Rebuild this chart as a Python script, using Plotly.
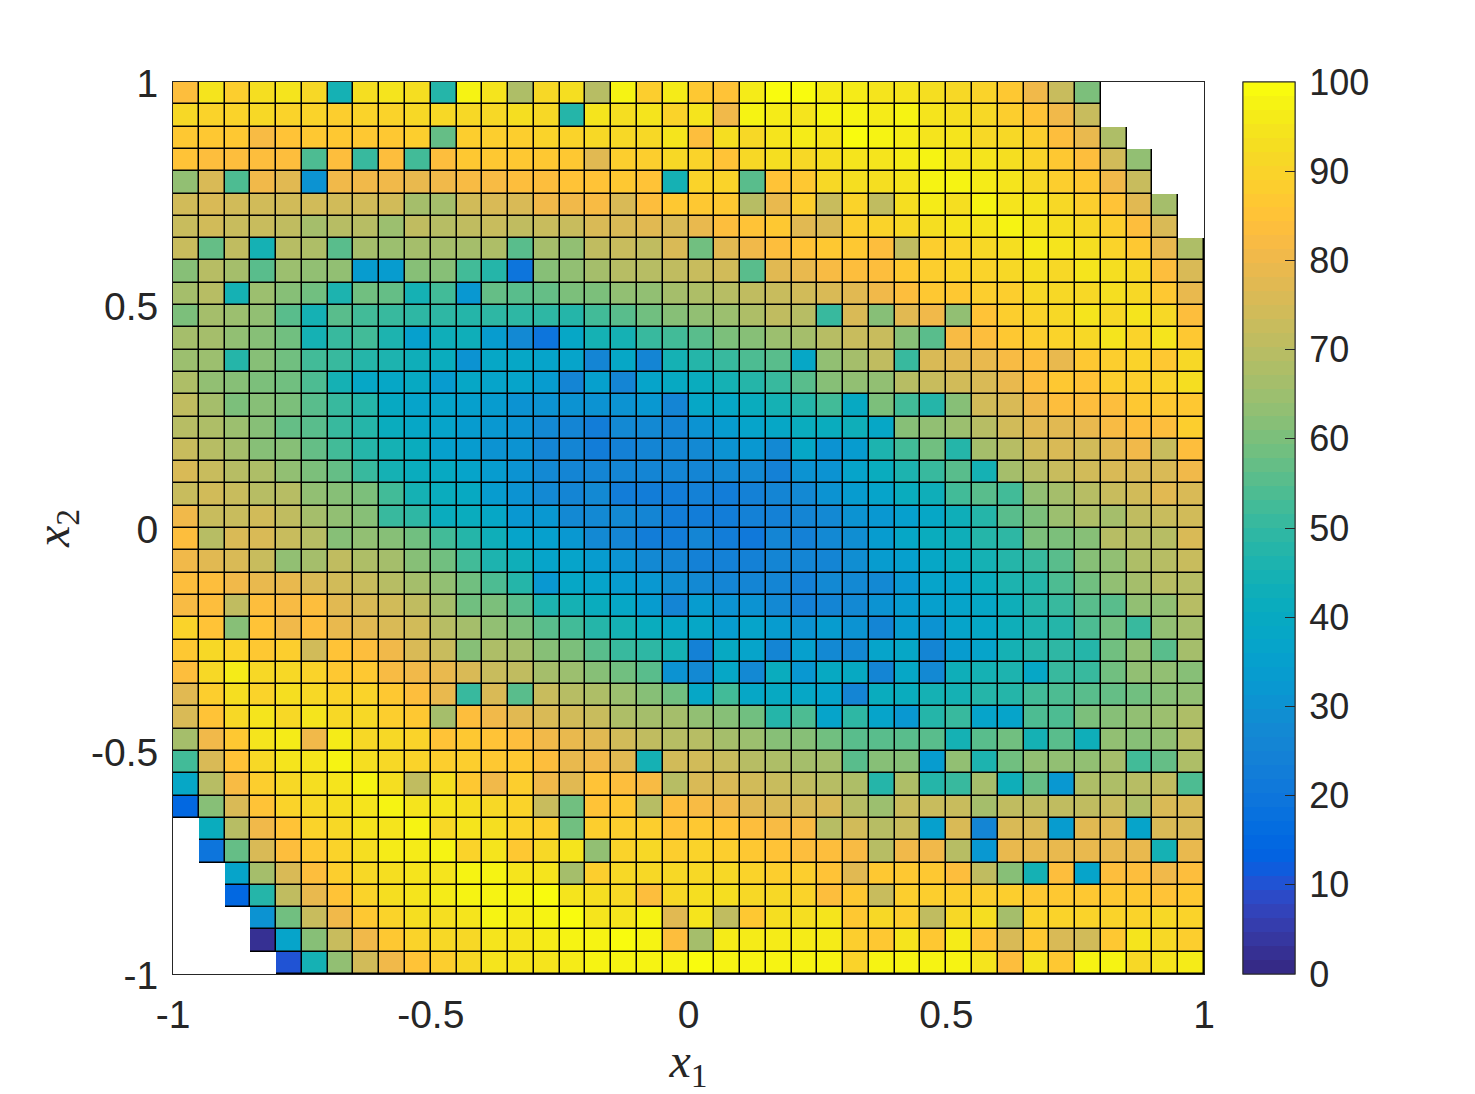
import plotly.graph_objects as go

N = None
# Rows run from x2 = 1 (top) to x2 = -1 (bottom); columns from x1 = -1 to x1 = 1.
row_00 = [84,94,89,93,94,91,44,93,94,93,48,97,94,68,92,93,70,98,88,96, 86,85,96,99,99,96,96,95,95,93,92,90,86,80,72,60,N,N,N,N]
row_01 = [91,90,90,91,90,90,89,90,90,92,92,91,92,93,91,48,94,93,94,90, 95,81,97,96,95,98,97,96,97,95,93,91,88,85,80,72,N,N,N,N]
row_02 = [86,87,87,82,85,86,86,86,87,89,57,88,88,89,90,90,91,92,92,95, 83,93,92,94,96,94,99,97,96,94,94,92,91,88,84,79,68,N,N,N]
row_03 = [85,84,83,83,84,54,84,51,84,53,84,86,86,86,86,86,78,88,89,91, 90,85,92,93,92,93,94,95,96,97,95,95,93,90,87,83,74,63,N,N]
row_04 = [64,75,54,80,78,30,80,80,80,79,81,82,82,83,84,85,85,86,85,45, 90,90,56,85,87,92,93,93,95,98,98,96,95,92,89,87,81,72,N,N]
row_05 = [74,75,74,74,74,74,74,74,74,67,67,74,76,76,80,80,82,75,83,86, 87,86,70,79,88,73,90,71,93,96,93,97,95,94,91,89,85,77,66,N]
row_06 = [72,74,72,72,71,67,70,70,65,71,70,71,72,71,72,73,75,75,77,75, 79,83,85,86,78,75,89,90,92,93,95,94,97,94,93,92,89,84,75,N]
row_07 = [72,57,71,44,69,68,56,67,65,67,66,66,68,56,67,64,71,72,71,75, 58,77,81,83,85,86,87,84,71,89,90,92,93,96,95,93,90,87,79,68]
row_08 = [61,69,66,56,65,64,63,34,34,61,62,52,47,20,61,64,66,69,70,71, 73,74,56,77,79,82,84,84,86,89,90,90,91,93,92,95,93,91,84,75]
row_09 = [66,69,44,65,62,59,46,58,57,44,52,32,57,55,57,60,60,63,64,66, 68,69,71,72,74,76,78,81,84,86,87,88,89,91,91,91,93,92,87,79]
row_10 = [60,67,65,64,55,45,55,52,51,49,49,48,49,49,49,48,52,55,58,61, 63,65,68,71,70,50,76,62,78,81,64,85,89,90,91,94,92,95,91,84]
row_11 = [67,66,64,62,58,45,50,52,46,35,43,43,33,28,20,38,45,44,50,52, 55,60,62,65,67,70,72,73,61,56,82,84,87,88,90,92,94,90,94,87]
row_12 = [65,65,47,61,59,52,51,48,46,43,41,30,38,38,37,37,25,39,26,44, 47,50,54,56,39,63,67,71,51,75,77,79,82,84,79,87,89,90,87,92]
row_13 = [68,63,62,60,59,54,45,39,38,40,33,39,36,36,33,25,35,25,37,40, 42,44,47,51,56,61,63,63,69,73,74,76,79,84,86,85,88,89,90,93]
row_14 = [71,67,60,61,60,56,50,48,40,37,36,35,34,31,30,30,31,31,32,25, 38,38,41,44,47,52,40,60,52,47,62,74,76,80,83,84,83,87,87,86]
row_15 = [70,68,65,61,57,55,50,47,42,38,36,33,32,30,27,26,22,27,27,26, 31,34,36,38,41,41,43,38,61,63,65,70,74,77,78,79,82,83,83,88]
row_16 = [72,69,66,62,62,57,52,48,44,41,35,33,31,30,26,25,22,24,25,26, 27,30,32,27,38,31,34,46,52,59,47,67,70,74,76,74,77,80,73,83]
row_17 = [76,73,70,68,64,60,57,51,44,42,40,36,33,30,28,26,25,25,25,25, 25,27,27,24,30,31,36,42,46,51,55,45,67,70,72,74,76,76,76,81]
row_18 = [73,74,73,69,69,63,61,60,52,44,42,40,33,31,28,26,27,23,22,22, 24,23,24,26,28,31,33,37,41,43,52,55,53,64,66,70,73,74,77,75]
row_19 = [80,73,72,74,71,67,64,62,51,49,42,42,38,32,32,28,28,27,25,23, 22,22,24,24,26,27,30,32,35,38,43,47,55,60,65,68,67,71,72,74]
row_20 = [84,70,76,75,73,70,62,64,62,58,52,47,43,36,35,32,27,26,23,23, 25,22,21,25,24,28,29,34,38,42,43,47,49,60,60,62,70,69,70,75]
row_21 = [80,77,76,72,63,66,71,68,66,62,59,53,46,43,36,36,33,30,27,25, 24,24,24,26,25,26,29,33,35,39,41,44,47,50,56,62,64,68,70,72]
row_22 = [84,84,81,79,79,76,74,73,69,66,63,59,54,48,32,39,37,34,32,29, 28,26,25,25,24,27,27,28,32,36,36,42,46,48,54,59,63,66,69,70]
row_23 = [82,83,71,84,82,83,78,75,74,71,66,58,60,55,46,45,42,38,33,25, 33,30,30,27,24,25,28,30,33,35,36,39,43,48,50,55,56,63,64,69]
row_24 = [90,85,62,85,80,83,79,78,75,74,69,66,64,60,56,53,48,44,41,38, 38,33,36,33,31,33,31,25,33,31,36,38,43,46,48,54,58,50,64,66]
row_25 = [86,92,90,86,88,74,85,83,80,76,73,61,68,66,61,60,56,51,49,45, 24,40,37,25,35,27,27,36,39,25,33,36,44,47,49,47,58,63,56,66]
row_26 = [83,92,96,91,91,90,86,87,82,80,79,75,72,71,67,65,62,59,55,30, 27,38,27,42,32,40,40,25,39,28,43,44,46,38,50,50,58,63,64,62]
row_27 = [78,88,93,90,93,92,90,90,86,83,79,50,76,56,72,70,68,65,62,59, 39,52,38,40,39,37,25,42,41,44,45,47,48,53,54,55,57,58,62,64]
row_28 = [75,85,92,95,92,94,92,92,89,86,66,83,81,78,75,74,72,68,67,66, 64,62,59,48,54,37,49,37,32,47,50,37,36,54,54,60,62,63,65,68]
row_29 = [67,81,87,94,96,81,96,92,91,90,85,87,85,83,81,79,77,74,71,69, 69,66,65,62,61,59,56,55,55,55,44,55,58,44,56,43,63,61,64,69]
row_30 = [53,76,85,91,94,95,98,93,92,90,89,89,86,86,84,79,80,78,45,74, 74,72,70,68,66,66,56,62,62,33,63,46,59,63,64,64,66,53,57,68]
row_31 = [39,70,82,88,91,93,95,98,93,71,93,86,80,89,80,78,85,83,82,70, 76,75,74,72,71,70,68,47,68,47,50,67,43,57,32,68,68,70,71,54]
row_32 = [15,62,76,85,90,92,93,95,98,94,95,93,92,90,73,59,85,86,70,83, 82,80,78,76,75,75,70,65,73,73,72,67,71,71,71,71,72,68,75,75]
row_33 = [N,41,70,80,85,90,92,94,95,98,92,94,93,90,88,59,88,88,88,85, 87,85,83,82,82,70,74,69,73,35,76,26,76,75,33,78,77,37,76,76]
row_34 = [N,20,57,75,83,86,90,93,96,96,98,90,95,87,92,94,63,90,91,88, 90,88,87,85,84,84,82,70,80,81,70,32,79,79,79,79,79,79,44,79]
row_35 = [N,N,36,66,76,84,89,91,93,95,95,97,97,94,94,66,88,91,92,92, 91,91,90,89,88,85,78,86,87,87,84,71,62,45,84,36,84,84,80,84]
row_36 = [N,N,15,48,71,79,85,90,93,95,96,97,97,97,99,95,93,92,83,92, 93,93,91,91,90,84,87,72,89,89,88,88,88,87,87,87,87,87,85,87]
row_37 = [N,N,N,30,58,72,81,86,90,93,93,95,97,96,97,99,94,95,97,78, 94,71,87,93,93,94,87,92,88,71,91,93,67,90,90,90,90,90,91,90]
row_38 = [N,N,N,3,36,62,72,81,87,90,91,92,95,94,96,97,98,99,98,84, 67,96,96,96,96,96,89,86,95,87,96,85,76,87,76,74,87,94,92,89]
row_39 = [N,N,N,N,10,44,63,74,80,85,88,92,94,95,95,96,97,97,98,98, 99,97,97,97,97,97,90,97,97,97,98,94,83,94,86,97,97,92,95,96]

z_rows = [row_00,row_01,row_02,row_03,row_04,row_05,row_06,row_07,row_08,row_09,
          row_10,row_11,row_12,row_13,row_14,row_15,row_16,row_17,row_18,row_19,
          row_20,row_21,row_22,row_23,row_24,row_25,row_26,row_27,row_28,row_29,
          row_30,row_31,row_32,row_33,row_34,row_35,row_36,row_37,row_38,row_39]

x_centers = [-1 + (i + 0.5) / 20 for i in range(40)]
y_centers = [1 - (i + 0.5) / 20 for i in range(40)]

axis_ticks = [-1, -0.5, 0, 0.5, 1]
axis_labels = ["-1", "-0.5", "0", "0.5", "1"]
cbar_ticks = [0, 10, 20, 30, 40, 50, 60, 70, 80, 90, 100]

parula = [
(0.2081,0.1663,0.5292),(0.2116,0.1898,0.5777),(0.2123,0.2138,0.6270),(0.2081,0.2386,0.6771),
(0.1959,0.2645,0.7279),(0.1707,0.2919,0.7792),(0.1253,0.3242,0.8303),(0.0591,0.3598,0.8683),
(0.0117,0.3875,0.8820),(0.0060,0.4086,0.8828),(0.0165,0.4266,0.8786),(0.0329,0.4430,0.8720),
(0.0498,0.4586,0.8641),(0.0629,0.4737,0.8554),(0.0723,0.4887,0.8467),(0.0779,0.5040,0.8384),
(0.0793,0.5200,0.8312),(0.0749,0.5375,0.8263),(0.0641,0.5570,0.8240),(0.0488,0.5772,0.8228),
(0.0343,0.5966,0.8199),(0.0265,0.6137,0.8135),(0.0239,0.6287,0.8038),(0.0231,0.6418,0.7913),
(0.0228,0.6535,0.7768),(0.0267,0.6642,0.7607),(0.0384,0.6743,0.7436),(0.0590,0.6838,0.7254),
(0.0843,0.6928,0.7062),(0.1133,0.7015,0.6859),(0.1453,0.7098,0.6646),(0.1801,0.7177,0.6424),
(0.2178,0.7250,0.6193),(0.2586,0.7317,0.5954),(0.3022,0.7376,0.5712),(0.3482,0.7424,0.5473),
(0.3953,0.7459,0.5244),(0.4420,0.7481,0.5033),(0.4871,0.7491,0.4840),(0.5300,0.7491,0.4661),
(0.5709,0.7485,0.4494),(0.6099,0.7473,0.4337),(0.6473,0.7456,0.4188),(0.6834,0.7435,0.4044),
(0.7184,0.7411,0.3905),(0.7525,0.7384,0.3768),(0.7858,0.7356,0.3633),(0.8185,0.7327,0.3498),
(0.8507,0.7299,0.3360),(0.8824,0.7274,0.3217),(0.9139,0.7258,0.3063),(0.9450,0.7261,0.2886),
(0.9739,0.7314,0.2666),(0.9938,0.7455,0.2403),(0.9990,0.7653,0.2164),(0.9955,0.7861,0.1967),
(0.9880,0.8066,0.1794),(0.9789,0.8271,0.1633),(0.9697,0.8481,0.1475),(0.9626,0.8705,0.1309),
(0.9589,0.8949,0.1132),(0.9598,0.9218,0.0948),(0.9661,0.9514,0.0755),(0.9763,0.9831,0.0538),
]
colorscale = []
for i, (r, g, b) in enumerate(parula):
    c = f"rgb({round(r*255)},{round(g*255)},{round(b*255)})"
    colorscale.append([i / 64, c])
    colorscale.append([(i + 1) / 64, c])

INK = "#262626"
SANS = "Liberation Sans, Arial, sans-serif"
SERIF = "Liberation Serif, DejaVu Serif, serif"

cbar_common = dict(
    x=(1243 - 173) / 1031, xanchor="left", xpad=0, ypad=0,
    y=0.5, yanchor="middle", len=1, lenmode="fraction",
    thickness=52, thicknessmode="pixels",
    outlinewidth=1, outlinecolor=INK,
    tickmode="array", tickvals=cbar_ticks, tickwidth=1,
)

# black backing under defined cells: shows through the gaps as cell edges
mask = [[None if v is None else 1 for v in row] for row in z_rows]

fig = go.Figure()
# Hidden under the backing: carries the colour bar's tick labels, pushed out by clear ticks.
fig.add_trace(go.Heatmap(x=x_centers, y=y_centers, z=z_rows, zmin=0, zmax=100,
                         colorscale=colorscale, hoverinfo="skip",
                         colorbar=dict(**cbar_common, ticks="outside", ticklen=7,
                                       tickcolor="rgba(0,0,0,0)",
                                       tickfont=dict(family=SANS, size=36, color=INK))))
fig.add_trace(go.Heatmap(x=x_centers, y=y_centers, z=mask, zmin=0, zmax=1,
                         colorscale=[[0, "#000000"], [1, "#000000"]],
                         showscale=False, hoverinfo="skip"))
# Visible cells: carries the colour bar's inward tick marks.
fig.add_trace(go.Heatmap(x=x_centers, y=y_centers, z=z_rows, zmin=0, zmax=100,
                         colorscale=colorscale, xgap=1.5, ygap=1.5,
                         colorbar=dict(**cbar_common, ticks="inside", ticklen=10,
                                       tickcolor=INK, showticklabels=False)))

axis_common = dict(
    range=[-1, 1], tickmode="array", tickvals=axis_ticks, ticktext=axis_labels,
    ticks="", showgrid=False, zeroline=False,
    showline=True, linecolor=INK, linewidth=1, mirror=True,
    tickfont=dict(family=SANS, size=39, color=INK),
)
fig.update_layout(
    width=1475, height=1094,
    margin=dict(l=173, r=271, t=82, b=120, pad=0),
    paper_bgcolor="white", plot_bgcolor="white",
    xaxis=dict(**axis_common, ticklabelstandoff=6, automargin=False,
               title=dict(text="<i>x</i><sub>1</sub>",
                          font=dict(family=SERIF, size=48, color=INK), standoff=17)),
    yaxis=dict(**axis_common, ticklabelstandoff=6, ticklabelshift=1,
               title=dict(text="<i>x</i><sub>2</sub>",
                          font=dict(family=SERIF, size=48, color=INK), standoff=6)),
)

fig.write_html("out.html", config=dict(displayModeBar=False),
               post_script="document.body.style.margin='0';document.body.style.overflow='hidden';")
